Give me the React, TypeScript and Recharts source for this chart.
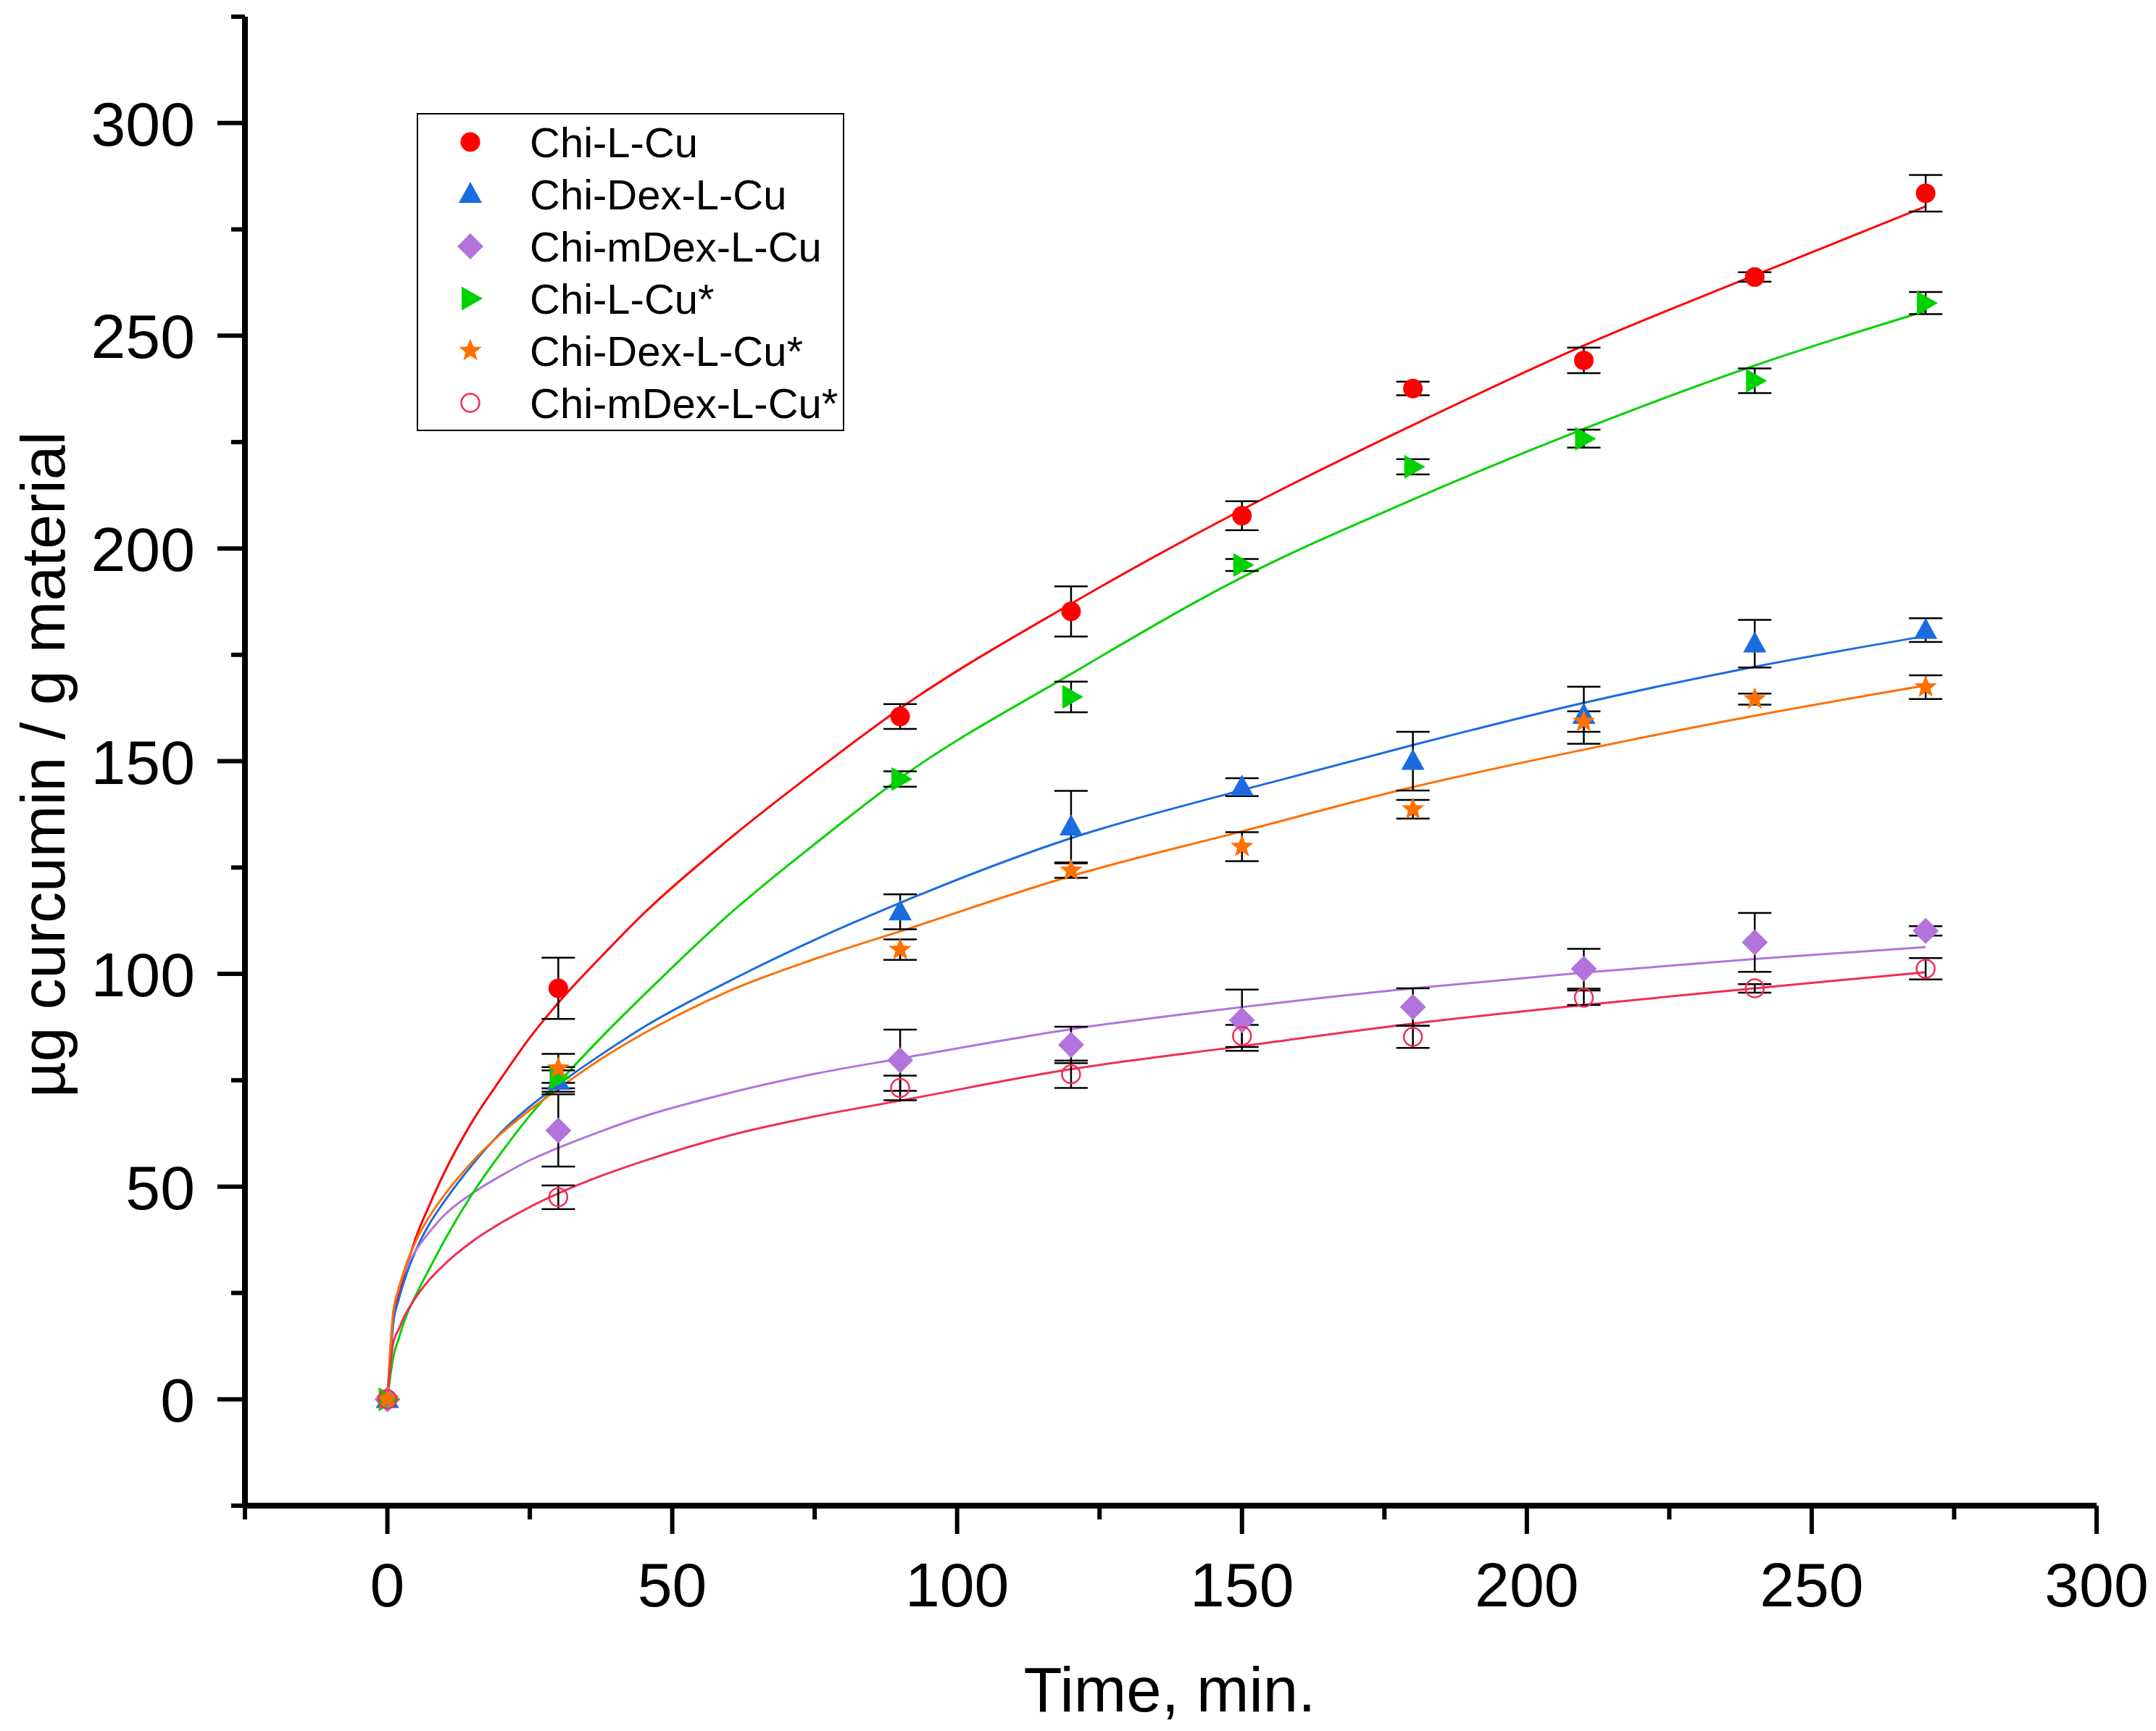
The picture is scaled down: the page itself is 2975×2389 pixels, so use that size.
import { ComposedChart, ErrorBar, Legend, Line, Scatter, XAxis, YAxis } from "recharts";

const FONT = '"Liberation Sans", Arial, sans-serif';

// sampling times, min.
const TIMES = [0, 30, 90, 120, 150, 180, 210, 240, 270];

// µg curcumin / g material (mean, ± error)
const chiLCu = [0, 96.6, 160.5, 185.2, 207.7, 237.6, 244.2, 263.8, 283.5];
const chiLCuErr = [null, 7.2, 2.9, 5.9, 3.4, 1.6, 3.0, 1.1, 4.3];
const chiDexLCu = [0, 74.8, 114.6, 134.6, 143.9, 150.0, 160.8, 177.6, 180.8];
const chiDexLCuErr = [null, 2.5, 4.1, 8.4, 2.1, 6.9, 6.7, 5.6, 2.8];
const chiMDexLCu = [0, 63.2, 79.7, 83.3, 89.1, 92.2, 101.2, 107.4, 110.1];
const chiMDexLCuErr = [null, 8.5, 7.2, 4.3, 7.2, 4.4, 4.7, 6.9, 1.1];
const chiLCuS = [0, 75.6, 145.8, 165.1, 196.1, 219.2, 225.8, 239.4, 257.7];
const chiLCuSErr = [null, 2.5, 1.8, 3.6, 1.4, 1.8, 2.1, 2.9, 2.6];
const chiDexLCuS = [0, 77.8, 105.7, 124.3, 129.9, 138.7, 159.3, 164.6, 167.4];
const chiDexLCuSErr = [null, 3.4, 2.4, 1.7, 3.4, 2.2, 2.4, 1.3, 2.8];
const chiMDexLCuS = [0, 47.5, 73.2, 76.4, 85.4, 85.2, 94.4, 96.6, 101.2];
const chiMDexLCuSErr = [null, 2.8, 2.9, 3.2, 2.6, 2.6, 1.7, 1.0, 2.5];

// fitted release curves
const FIT_TIMES = [0, 1, 2, 3, 5, 7.5, 10, 15, 20, 25, 30, 37.5, 45, 60, 75, 90, 120, 150, 180, 210, 240, 270];
const fitChiLCu = [0, 18, 24.5, 29.5, 38, 46, 53.3, 65.5, 75.5, 85, 93.2, 104, 114.2, 131.7, 147.5, 162.4, 187, 209.1, 229, 247.7, 264.2, 280.4];
const fitChiDexLCu = [0, 17.5, 23.5, 28, 35, 41.5, 46.5, 55.3, 62.8, 68.8, 74, 81, 87.5, 98.3, 108, 116.7, 131.9, 143.2, 153.8, 163.7, 172.2, 179.4];
const fitChiMDexLCu = [0, 20, 26, 30, 35, 39.5, 43.3, 48.5, 52.6, 56.2, 59.1, 63, 66.5, 72, 76.5, 80.1, 87, 92.2, 96.6, 100.3, 103.5, 106.3];
const fitChiLCuS = [0, 9.7, 14.3, 18.5, 24.5, 31, 37.3, 48.5, 58, 66.7, 74.3, 85, 95, 114, 130.5, 146, 170.5, 193.2, 211.5, 228.1, 243, 255.8];
const fitChiDexLCuS = [0, 20, 26, 30.5, 37.2, 43.2, 48, 56, 62.5, 68, 73, 80, 86, 96, 103.5, 110, 123, 133.5, 143.9, 152.7, 160.7, 167.8];
const fitChiMDexLCuS = [0, 13, 16.5, 19.5, 24, 28.3, 31.7, 37.2, 41.5, 45.2, 48.4, 52.5, 56, 62, 66.5, 70.2, 77.6, 83, 88.3, 92.7, 96.6, 100.4];

const X_TICKS = [-25, 0, 25, 50, 75, 100, 125, 150, 175, 200, 225, 250, 275, 300];
const Y_TICKS = [-25, 0, 25, 50, 75, 100, 125, 150, 175, 200, 225, 250, 275, 300, 325];

const SERIES = [
  { name: "Chi-L-Cu", color: "#FF0000", marker: "circle", values: chiLCu, errors: chiLCuErr, fit: fitChiLCu },
  { name: "Chi-Dex-L-Cu", color: "#1B6CE0", marker: "triangle", values: chiDexLCu, errors: chiDexLCuErr, fit: fitChiDexLCu },
  { name: "Chi-mDex-L-Cu", color: "#B274DC", marker: "diamond", values: chiMDexLCu, errors: chiMDexLCuErr, fit: fitChiMDexLCu },
  { name: "Chi-L-Cu*", color: "#00D200", marker: "right", values: chiLCuS, errors: chiLCuSErr, fit: fitChiLCuS },
  { name: "Chi-Dex-L-Cu*", color: "#FF7000", marker: "star", values: chiDexLCuS, errors: chiDexLCuSErr, fit: fitChiDexLCuS },
  { name: "Chi-mDex-L-Cu*", color: "#F22D55", marker: "ring", values: chiMDexLCuS, errors: chiMDexLCuSErr, fit: fitChiMDexLCuS },
];

function starPoints(cx: number, cy: number, R: number, r: number) {
  const pts: string[] = [];
  for (let i = 0; i < 10; i++) {
    const a = -Math.PI / 2 + (i * Math.PI) / 5;
    const rad = i % 2 === 0 ? R : r;
    pts.push(`${cx + rad * Math.cos(a)},${cy + rad * Math.sin(a)}`);
  }
  return pts.join(" ");
}

function Marker({ kind, cx, cy, color }: { kind: string; cx: number; cy: number; color: string }) {
  switch (kind) {
    case "circle":
      return <circle cx={cx} cy={cy} r={13.5} fill={color} />;
    case "triangle":
      return <polygon points={`${cx},${cy - 17} ${cx + 16},${cy + 12} ${cx - 16},${cy + 12}`} fill={color} />;
    case "diamond":
      return <polygon points={`${cx},${cy - 18} ${cx + 18},${cy} ${cx},${cy + 18} ${cx - 18},${cy}`} fill={color} />;
    case "right":
      return <polygon points={`${cx - 12},${cy - 16.5} ${cx + 17},${cy} ${cx - 12},${cy + 16.5}`} fill={color} />;
    case "star":
      return <polygon points={starPoints(cx, cy, 16.5, 7)} fill={color} />;
    default:
      return <circle cx={cx} cy={cy} r={12.5} fill="none" stroke={color} strokeWidth={2.5} />;
  }
}

function XTick({ x, y, payload }: any) {
  const major = payload.value % 50 === 0;
  return (
    <g>
      <line x1={x} y1={y} x2={x} y2={y + (major ? 39 : 19)} stroke="#000" strokeWidth={6} />
      {major && (
        <text x={x} y={y + 139} textAnchor="middle" fontSize={86} fontFamily={FONT} fill="#000">
          {payload.value}
        </text>
      )}
    </g>
  );
}

function YTick({ x, y, payload }: any) {
  const major = payload.value % 50 === 0;
  return (
    <g>
      <line x1={x} y1={y} x2={x - (major ? 38 : 19)} y2={y} stroke="#000" strokeWidth={6} />
      {major && (
        <text x={x - 69} y={y + 31} textAnchor="end" fontSize={86} fontFamily={FONT} fill="#000">
          {payload.value}
        </text>
      )}
    </g>
  );
}

function LegendBox() {
  return (
    <svg width={590} height={439} style={{ display: "block" }}>
      <rect x={1} y={1} width={588} height={437} fill="#fff" stroke="#000" strokeWidth={2} />
      {SERIES.map((s, i) => {
        const cy = 40 + i * 72;
        return (
          <g key={s.name}>
            <Marker kind={s.marker} cx={74} cy={cy} color={s.color} />
            <text x={156} y={cy + 21} fontSize={58} fontFamily={FONT} fill="#000">
              {s.name}
            </text>
          </g>
        );
      })}
    </svg>
  );
}

export default function App() {
  const series = SERIES.map((s) => ({
    ...s,
    points: TIMES.map((x, i) => ({ x, y: s.values[i], err: s.errors[i] })),
    curve: FIT_TIMES.map((x, i) => ({ x, y: s.fit[i] })),
  }));

  return (
    <div style={{ width: 2959, height: 2373 }}>
      <ComposedChart width={2959} height={2373} margin={{ top: 15, right: 74, bottom: 3, left: 100 }}>
        <XAxis
          type="number"
          dataKey="x"
          domain={[-25, 300]}
          ticks={X_TICKS}
          interval={0}
          tickSize={0}
          tickMargin={0}
          tickLine={false}
          tick={<XTick />}
          axisLine={{ stroke: "#000", strokeWidth: 8 }}
          height={300}
          label={() => (
            <text x={1606} y={2354} textAnchor="middle" fontSize={87} fontFamily={FONT} fill="#000">
              Time, min.
            </text>
          )}
        />
        <YAxis
          type="number"
          dataKey="y"
          domain={[-25, 325]}
          ticks={Y_TICKS}
          interval={0}
          tickSize={0}
          tickMargin={0}
          tickLine={false}
          tick={<YTick />}
          axisLine={{ stroke: "#000", strokeWidth: 8 }}
          width={230}
          label={() => (
            <text
              x={81}
              y={1047}
              transform="rotate(-90 81 1047)"
              textAnchor="middle"
              fontSize={86}
              fontFamily={FONT}
              fill="#000"
            >
              µg curcumin / g material
            </text>
          )}
        />
        <Legend
          layout="vertical"
          align="center"
          verticalAlign="middle"
          content={() => <LegendBox />}
          wrapperStyle={{ left: 567, top: 148, width: 590, height: 439 }}
        />
        {series.map((s) => (
          <Line
            key={`${s.name}-fit`}
            data={s.curve}
            dataKey="y"
            type="monotone"
            stroke={s.color}
            strokeWidth={3}
            dot={false}
            activeDot={false}
            legendType="none"
            isAnimationActive={false}
          />
        ))}
        {series.map((s) => (
          <Scatter
            key={`${s.name}-pts`}
            name={s.name}
            data={s.points}
            dataKey="y"
            shape={(p: any) => <Marker kind={s.marker} cx={p.cx} cy={p.cy} color={s.color} />}
            isAnimationActive={false}
          />
        ))}
        {series.map((s) => (
          <Scatter
            key={`${s.name}-err`}
            data={s.points.filter((p) => p.err != null)}
            dataKey="y"
            shape={() => <g />}
            legendType="none"
            isAnimationActive={false}
          >
            <ErrorBar dataKey="err" direction="y" width={23} strokeWidth={2.5} stroke="#000" />
          </Scatter>
        ))}
      </ComposedChart>
    </div>
  );
}
